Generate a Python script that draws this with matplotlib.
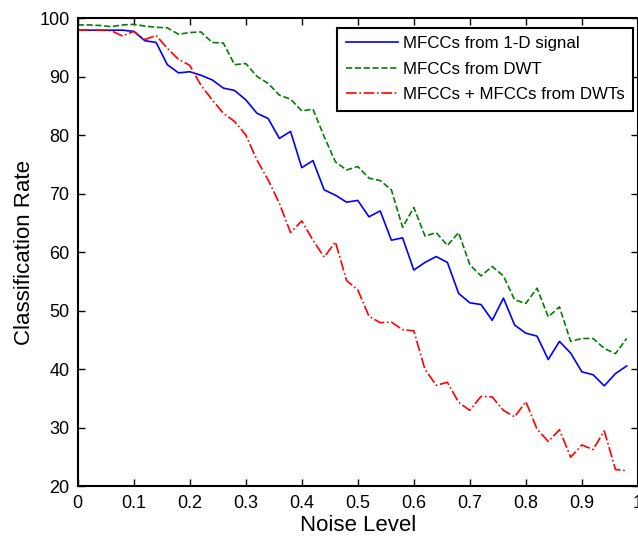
import matplotlib
matplotlib.use("Agg")
import matplotlib.pyplot as plt
import numpy as np

plt.rcParams.update({
    "font.family": ["Liberation Sans", "DejaVu Sans"],
    "font.size": 12,
    "xtick.direction": "in",
    "ytick.direction": "in",
    "xtick.top": True,
    "ytick.right": True,
})

noise = np.round(np.arange(0, 1.0, 0.02), 2)

mfcc_signal = [
    98.0, 98.0, 98.0, 98.0, 98.0, 97.8, 96.2, 95.9, 92.1, 90.7,
    90.9, 90.3, 89.5, 88.1, 87.7, 86.1, 83.8, 82.9, 79.5, 80.7,
    74.5, 75.7, 70.7, 69.8, 68.6, 68.9, 66.1, 67.1, 62.1, 62.5,
    57.0, 58.3, 59.3, 58.3, 53.0, 51.4, 51.1, 48.4, 52.2, 47.6,
    46.2, 45.7, 41.7, 44.8, 42.8, 39.6, 39.1, 37.2, 39.3, 40.6,
]
mfcc_dwt = [
    98.9, 98.9, 98.8, 98.6, 98.9, 99.0, 98.7, 98.5, 98.4, 97.3,
    97.6, 97.7, 95.9, 95.8, 92.1, 92.3, 90.1, 88.9, 86.9, 86.2,
    84.2, 84.5, 79.8, 75.5, 74.1, 74.7, 72.7, 72.3, 70.7, 64.3,
    67.7, 62.8, 63.4, 61.2, 63.4, 57.9, 56.0, 57.6, 56.0, 51.9,
    51.3, 53.9, 49.0, 50.7, 44.8, 45.3, 45.3, 43.6, 42.7, 45.3,
]
mfcc_combined = [
    98.0, 98.0, 98.0, 97.9, 97.0, 97.8, 96.4, 97.1, 94.9, 93.0,
    92.0, 88.6, 86.1, 83.8, 82.4, 80.1, 75.8, 72.4, 68.4, 63.4,
    65.4, 62.1, 59.2, 61.8, 55.2, 53.6, 49.1, 48.0, 48.1, 46.8,
    46.6, 40.0, 37.3, 37.8, 34.4, 33.0, 35.4, 35.3, 33.0, 31.9,
    34.5, 29.8, 27.7, 29.7, 25.0, 27.1, 26.3, 29.5, 22.9, 22.7,
]
labels = ["MFCCs from 1-D signal", "MFCCs from DWT", "MFCCs + MFCCs from DWTs"]

xticks = np.round(np.arange(0, 1.01, 0.1), 1)
xtick_labels = ["0", "0.1", "0.2", "0.3", "0.4", "0.5", "0.6", "0.7", "0.8", "0.9", "1"]
yticks = np.arange(20, 101, 10)

fig = plt.figure(figsize=(6.38, 5.36), dpi=100)
ax = fig.add_axes([0.1218, 0.0924, 0.878, 0.8731])

ax.plot(noise, mfcc_signal, "-", color="#0000FF", linewidth=1.2, label=labels[0])
ax.plot(noise, mfcc_dwt, "--", color="#008000", linewidth=1.2, label=labels[1])
ax.plot(noise, mfcc_combined, "-.", color="#FF0000", linewidth=1.2, label=labels[2])

ax.set_xlim(0, 1)
ax.set_ylim(20, 100)
ax.set_xticks(xticks)
ax.set_xticklabels(xtick_labels)
ax.set_yticks(yticks)
ax.tick_params(length=5, width=1, labelsize=13, pad=6)
for s in ax.spines.values():
    s.set_linewidth(1.5)

ax.set_xlabel("Noise Level", fontsize=16, labelpad=2)
ax.set_ylabel("Classification Rate", fontsize=16, labelpad=3)

leg = ax.legend(loc="upper right", bbox_to_anchor=(0.992, 0.98), borderaxespad=0,
                fancybox=False, framealpha=1, edgecolor="black", fontsize=12.2,
                handlelength=3.1, handletextpad=0.3, labelspacing=0.62,
                borderpad=0.5)
leg.get_frame().set_linewidth(1.5)

fig.savefig("out.png", dpi=100)
